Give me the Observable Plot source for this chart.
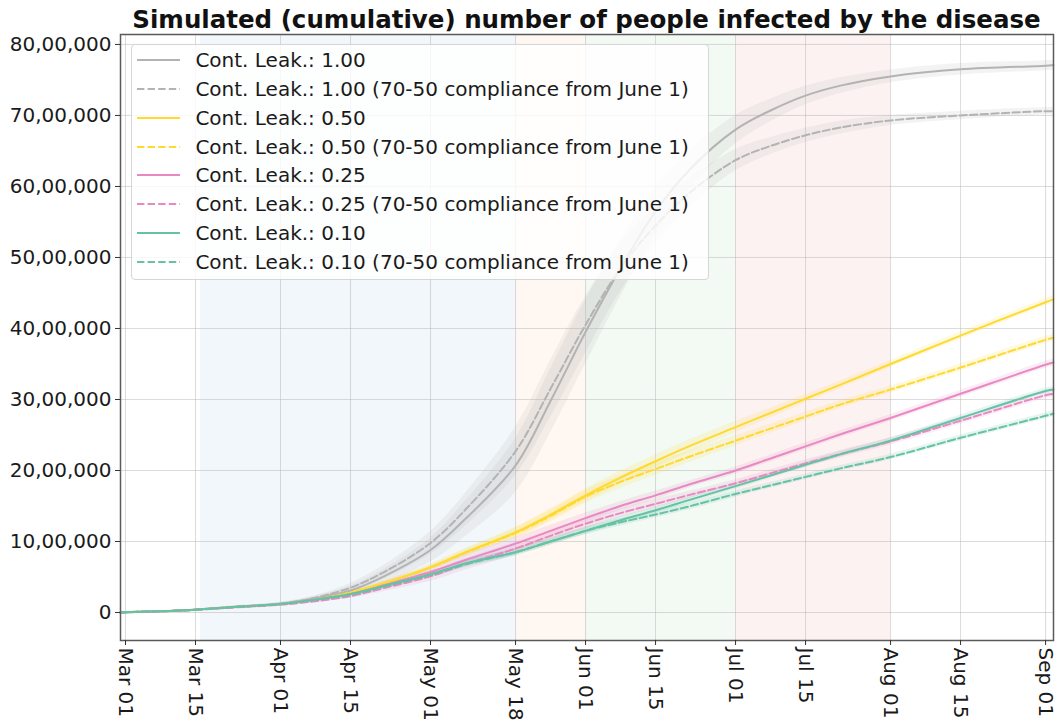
<!DOCTYPE html>
<html>
<head>
<meta charset="utf-8">
<script src="https://cdn.jsdelivr.net/npm/d3@7"></script>
<script src="https://cdn.jsdelivr.net/npm/@observablehq/plot@0.6"></script>
<style>
  html, body { margin: 0; padding: 0; background: #fff; }
  #wrap { position: relative; width: 1058px; height: 722px; font-family: "DejaVu Sans", sans-serif; }
  #title { position: absolute; left: 120px; width: 933px; top: 4.5px; line-height: 30px; text-align: center;
           font-weight: bold; font-size: 24.5px; color: #111; white-space: nowrap; }
  #legend { position: absolute; left: 131px; top: 44px; width: 578px; height: 236px; box-sizing: border-box;
            background: rgba(255,255,255,0.8); border: 1px solid #d6d6d6; border-radius: 4px; padding-top: 0.9px; }
  .row { display: flex; align-items: center; height: 28.77px; font-size: 20px; color: #1a1a1a; white-space: nowrap; }
  .row svg { margin-left: 5px; margin-right: 15.4px; }
</style>
</head>
<body>
<div id="wrap">
  <div id="chart"></div>
  <div id="title">Simulated (cumulative) number of people infected by the disease</div>
  <div id="legend"></div>
</div>
<script>
// ---- Data (values in millions of people) ----
const dates = ["2020-02-29","2020-03-01","2020-03-08","2020-03-15","2020-03-22","2020-04-01","2020-04-08",
  "2020-04-15","2020-04-22","2020-05-01","2020-05-08","2020-05-18","2020-05-25","2020-06-01","2020-06-08",
  "2020-06-15","2020-06-22","2020-07-01","2020-07-08","2020-07-15","2020-07-22","2020-08-01","2020-08-15",
  "2020-09-01","2020-09-02T14:00"];

const leak100  = [0,0.005,0.018,0.04,0.075,0.12,0.20,0.31,0.52,0.88,1.32,2.07,2.98,3.95,4.85,5.65,6.25,6.80,7.07,7.28,7.42,7.55,7.65,7.70,7.71];
const leak100c = [0,0.005,0.018,0.04,0.078,0.125,0.21,0.35,0.58,0.98,1.45,2.27,3.15,4.05,4.85,5.45,5.92,6.37,6.57,6.72,6.83,6.93,7.00,7.06,7.06];
const leak050  = [0,0.005,0.018,0.04,0.075,0.12,0.18,0.28,0.42,0.64,0.85,1.13,1.38,1.65,1.90,2.13,2.35,2.61,2.81,3.01,3.21,3.50,3.90,4.37,4.41];
const leak050c = [0,0.005,0.018,0.04,0.075,0.12,0.18,0.28,0.42,0.63,0.84,1.12,1.36,1.63,1.84,2.02,2.20,2.42,2.59,2.76,2.93,3.14,3.45,3.84,3.87];
const leak025  = [0,0.005,0.018,0.04,0.072,0.12,0.18,0.26,0.39,0.57,0.74,0.97,1.15,1.33,1.50,1.65,1.81,2.00,2.17,2.34,2.51,2.74,3.08,3.49,3.52];
const leak025c = [0,0.005,0.017,0.038,0.068,0.11,0.16,0.23,0.35,0.51,0.68,0.90,1.08,1.25,1.40,1.53,1.66,1.82,1.96,2.10,2.23,2.41,2.70,3.06,3.08];
const leak010  = [0,0.005,0.018,0.04,0.075,0.12,0.18,0.26,0.38,0.54,0.69,0.85,1.00,1.15,1.30,1.44,1.59,1.78,1.93,2.08,2.23,2.42,2.74,3.12,3.14];
const leak010c = [0,0.005,0.018,0.04,0.075,0.12,0.18,0.25,0.37,0.53,0.68,0.85,1.00,1.15,1.27,1.38,1.50,1.67,1.79,1.91,2.03,2.19,2.46,2.77,2.80];

// half-widths of the shaded uncertainty bands (millions)
const band100  = [0,0.002,0.005,0.01,0.015,0.02,0.03,0.06,0.10,0.17,0.25,0.38,0.45,0.45,0.40,0.33,0.26,0.20,0.16,0.13,0.11,0.09,0.08,0.07,0.07];
const band100c = [0,0.002,0.005,0.01,0.015,0.02,0.03,0.06,0.10,0.16,0.23,0.34,0.40,0.40,0.33,0.26,0.20,0.15,0.12,0.10,0.09,0.07,0.06,0.05,0.05];
const band050  = [0,0.001,0.003,0.005,0.008,0.01,0.015,0.02,0.03,0.04,0.05,0.07,0.08,0.09,0.09,0.09,0.085,0.08,0.07,0.06,0.055,0.05,0.05,0.05,0.05];
const band050c = [0,0.001,0.003,0.005,0.008,0.01,0.015,0.02,0.03,0.04,0.05,0.07,0.08,0.09,0.09,0.085,0.08,0.07,0.065,0.06,0.055,0.05,0.05,0.05,0.05];
const band025  = [0,0.001,0.003,0.006,0.01,0.015,0.02,0.03,0.05,0.07,0.08,0.09,0.08,0.07,0.06,0.06,0.05,0.05,0.05,0.05,0.05,0.05,0.05,0.05,0.05];
const band025c = [0,0.001,0.003,0.006,0.01,0.015,0.02,0.03,0.05,0.07,0.08,0.09,0.08,0.07,0.06,0.06,0.05,0.05,0.05,0.05,0.05,0.05,0.05,0.05,0.05];
const band010  = [0,0.001,0.003,0.005,0.008,0.01,0.015,0.02,0.03,0.04,0.045,0.05,0.05,0.05,0.05,0.045,0.045,0.045,0.04,0.04,0.04,0.04,0.04,0.04,0.04];
const band010c = [0,0.001,0.003,0.005,0.008,0.01,0.015,0.02,0.03,0.04,0.045,0.05,0.05,0.05,0.05,0.045,0.045,0.045,0.04,0.04,0.04,0.04,0.04,0.04,0.04];

const seriesNames = [
  "Cont. Leak.: 1.00", "Cont. Leak.: 1.00 (70-50 compliance from June 1)",
  "Cont. Leak.: 0.50", "Cont. Leak.: 0.50 (70-50 compliance from June 1)",
  "Cont. Leak.: 0.25", "Cont. Leak.: 0.25 (70-50 compliance from June 1)",
  "Cont. Leak.: 0.10", "Cont. Leak.: 0.10 (70-50 compliance from June 1)"
];
const seriesValues = [leak100, leak100c, leak050, leak050c, leak025, leak025c, leak010, leak010c];
const seriesBands  = [band100, band100c, band050, band050c, band025, band025c, band010, band010c];
const seriesColors = ["#b3b3b3","#b3b3b3","#ffd92f","#ffd92f","#e78ac3","#e78ac3","#66c2a5","#66c2a5"];
const seriesDashed = [false, true, false, true, false, true, false, true];

// shaded phases
const phaseStarts = ["2020-03-16","2020-05-18","2020-06-01","2020-07-01"];
const phaseEnds   = ["2020-05-18","2020-06-01","2020-07-01","2020-08-01"];
const phaseColors = ["#1f77b4","#ff7f0e","#2ca02c","#d62728"];

const xTickDates = ["2020-03-01","2020-03-15","2020-04-01","2020-04-15","2020-05-01","2020-05-18","2020-06-01",
  "2020-06-15","2020-07-01","2020-07-15","2020-08-01","2020-08-15","2020-09-01"];
const yTickValues = [0,1000000,2000000,3000000,4000000,5000000,6000000,7000000,8000000];

// ---- Build tables ----
const parse = s => new Date(s + (s.length > 10 ? ":00Z" : "T00:00:00Z"));
const seriesRows = seriesNames.map((name, i) => dates.map((d, j) => {
  const v = seriesValues[i][j] * 1e6, b = seriesBands[i][j] * 1e6;
  return {series: name, date: parse(d), value: v, lo: v - b, hi: v + b};
}));
const phases = phaseStarts.map((s, i) => ({start: parse(s), end: parse(phaseEnds[i]), color: phaseColors[i]}));
const xTicks = xTickDates.map(parse);

function indian(n) {
  if (n === 0) return "0";
  const s = String(Math.round(n));
  const last3 = s.slice(-3), rest = s.slice(0, -3);
  return (rest ? rest.replace(/\B(?=(\d{2})+(?!\d))/g, ",") + "," : "") + last3;
}

const bandMarks = seriesRows.map((data, i) =>
  Plot.areaY(data, {x: "date", y1: "lo", y2: "hi", fill: seriesColors[i],
    fillOpacity: i < 2 ? 0.16 : 0.16, curve: "catmull-rom"}));
const lineMarks = seriesRows.map((data, i) =>
  Plot.line(data, {x: "date", y: "value", stroke: seriesColors[i], strokeWidth: 2, curve: "catmull-rom",
    strokeDasharray: seriesDashed[i] ? "7.4,3.2" : undefined}));

const chart = Plot.plot({
  width: 1058,
  height: 722,
  marginLeft: 120,
  marginRight: 5,
  marginTop: 34,
  marginBottom: 82,
  style: {fontFamily: "DejaVu Sans", fontSize: "20px", color: "#1a1a1a", background: "white", overflow: "visible"},
  x: {type: "utc", domain: [parse("2020-02-29"), parse("2020-09-02T14:00")]},
  y: {domain: [-394000, 8140000]},
  marks: [
    Plot.rect(phases, {x1: "start", x2: "end", fill: "color", fillOpacity: 0.06}),
    Plot.gridX(xTicks, {stroke: "#b0b0b0", strokeOpacity: 0.45, strokeWidth: 1}),
    Plot.gridY(yTickValues, {stroke: "#b0b0b0", strokeOpacity: 0.45, strokeWidth: 1}),
    ...bandMarks,
    ...lineMarks,
    Plot.frame({stroke: "#5a5a5a", strokeWidth: 1.5}),
    Plot.axisY({ticks: yTickValues, tickFormat: indian, tickSize: 5, tickPadding: 4, stroke: "#333"}),
    Plot.axisX({ticks: xTicks, tickFormat: d3.utcFormat("%b %d"), tickSize: 5, tickPadding: 2,
      tickRotate: 90, stroke: "#333"})
  ]
});
document.getElementById("chart").appendChild(chart);

// ---- Legend ----
const legend = document.getElementById("legend");
seriesNames.forEach((name, i) => {
  const row = document.createElement("div");
  row.className = "row";
  const dash = seriesDashed[i] ? ' stroke-dasharray="7.4,3.2"' : "";
  row.innerHTML = `<svg width="43" height="6"><line x1="0" y1="3" x2="43" y2="3" stroke="${seriesColors[i]}" stroke-width="2"${dash}/></svg><span>${name}</span>`;
  legend.appendChild(row);
});
</script>
</body>
</html>
